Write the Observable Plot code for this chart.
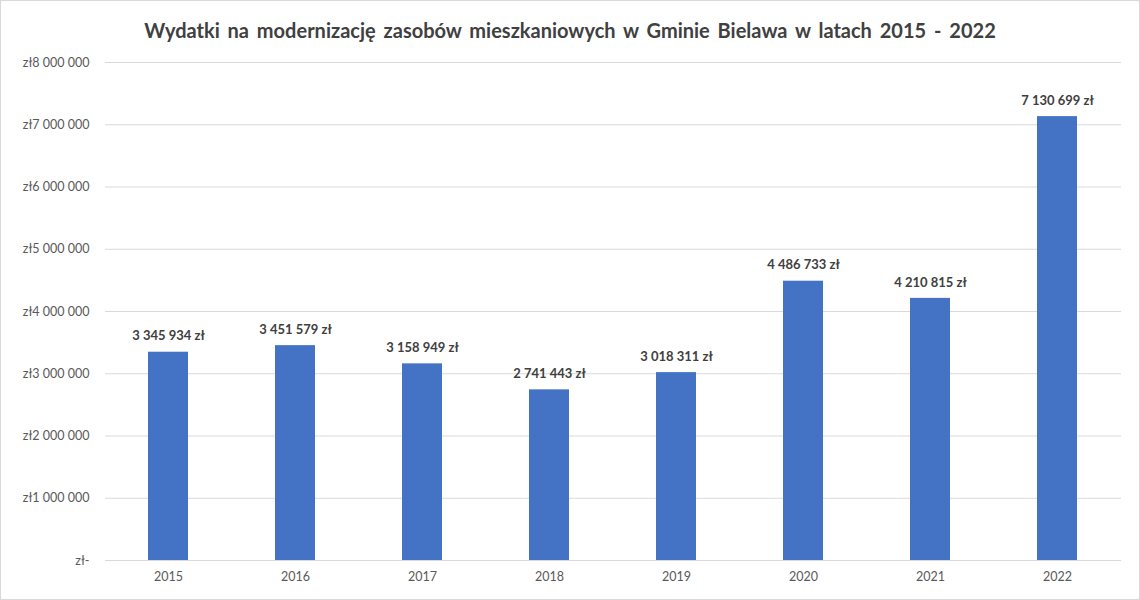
<!DOCTYPE html>
<html>
<head>
<meta charset="utf-8">
<script src="https://cdn.jsdelivr.net/npm/d3@7"></script>
<script src="https://cdn.jsdelivr.net/npm/@observablehq/plot@0.6"></script>
<style>
  html, body { margin: 0; padding: 0; background: #fff; }
  #wrap { width: 1140px; height: 600px; box-sizing: border-box; border: 1px solid #d9d9d9; position: relative; overflow: hidden; font-family: Lato, "Open Sans", sans-serif; }
  #title { height: 47px; line-height: 20px; padding-top: 19px; box-sizing: border-box; text-align: center; font-size: 20px; font-weight: bold; color: #404040; word-spacing: 3px; }
  #chart svg { display: block; }
</style>
</head>
<body>
<div id="wrap">
  <div id="title">Wydatki na modernizację zasobów mieszkaniowych w Gminie Bielawa w latach 2015 - 2022</div>
  <div id="chart"></div>
</div>
<script>
const years = ["2015", "2016", "2017", "2018", "2019", "2020", "2021", "2022"];
const values = [3345934, 3451579, 3158949, 2741443, 3018311, 4486733, 4210815, 7130699];
const yTicks = [0, 1000000, 2000000, 3000000, 4000000, 5000000, 6000000, 7000000, 8000000];

const data = years.map((y, i) => ({year: y, value: values[i]}));
const grp = n => d3.format(",")(n).replace(/,/g, "\u00a0");
const yFmt = v => v === 0 ? "zł-" : "zł" + grp(v);
const lblFmt = v => grp(v) + " zł";

const chart = Plot.plot({
  width: 1138,
  height: 552,
  marginTop: 14,
  marginBottom: 40,
  marginLeft: 104,
  marginRight: 18,
  style: {fontFamily: "Lato, 'Open Sans', sans-serif", background: "#fff"},
  x: {domain: years, paddingInner: 0.685, paddingOuter: 0.3425, label: null, tickSize: 0, tickPadding: 12},
  y: {domain: [0, 8000000], ticks: yTicks, label: null, tickSize: 0, tickPadding: 16, tickFormat: yFmt},
  marks: [
    Plot.gridY(yTicks, {stroke: "#d9d9d9", strokeOpacity: 1, strokeWidth: 1}),
    Plot.barY(data, {x: "year", y: "value", fill: "#4472C4"}),
    Plot.axisY(yTicks, {tickSize: 0, tickPadding: 16, tickFormat: yFmt, fill: "#595959", fontSize: 12.5, label: null}),
    Plot.axisX(years, {tickSize: 0, tickPadding: 12, fill: "#595959", fontSize: 12.5, label: null}),
    Plot.text(data, {x: "year", y: "value", text: d => lblFmt(d.value), dy: -16, fontWeight: "bold", fontSize: 13, fill: "#404040"})
  ]
});
document.getElementById("chart").appendChild(chart);
</script>
</body>
</html>
